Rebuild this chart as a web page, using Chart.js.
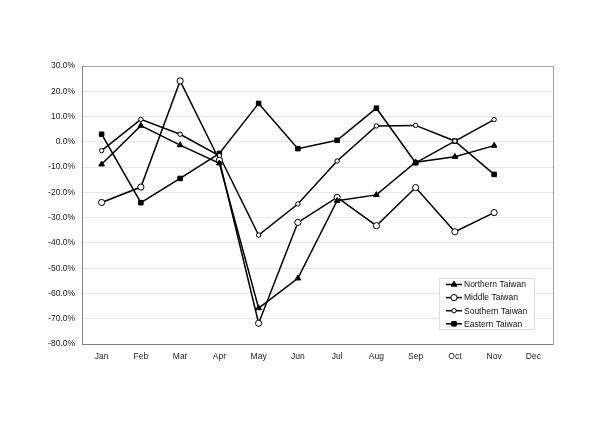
<!DOCTYPE html>
<html>
<head>
<meta charset="utf-8">
<script src="https://cdn.jsdelivr.net/npm/chart.js@4.4.1/dist/chart.umd.min.js"></script>
<style>
  html, body { margin: 0; padding: 0; background: #fff; }
  #wrap { width: 600px; height: 424px; position: relative; }
</style>
</head>
<body>
<div id="wrap"><canvas id="chart" width="600" height="424"></canvas></div>
<script>
const months = ["Jan", "Feb", "Mar", "Apr", "May", "Jun", "Jul", "Aug", "Sep", "Oct", "Nov", "Dec"];
const northern = [-8.9, 6.4, -1.3, -8.5, -65.8, -54.0, -23.3, -21.0, -8.1, -5.9, -1.5, null];
const middle = [-24.0, -17.9, 24.1, -7.3, -71.8, -31.9, -22.0, -33.2, -18.1, -35.6, -28.0, null];
const southern = [-3.5, 8.9, 3.0, -5.5, -36.9, -24.6, -7.6, 6.3, 6.5, 0.3, 8.8, null];
const eastern = [3.0, -24.1, -14.5, -4.6, 15.2, -2.7, 0.6, 13.3, -8.3, 0.3, -12.9, null];
const yMin = -80, yMax = 30, yStep = 10;

const FONT = "'Liberation Sans', Arial, sans-serif";

// legend + frame drawn on top of the plot
const frameAndLegend = {
  id: "frameAndLegend",
  afterDatasetsDraw(chart) {
    const { ctx, chartArea: a } = chart;
    ctx.save();
    ctx.strokeStyle = "#a0a0a0";
    ctx.lineWidth = 1;
    ctx.strokeRect(a.left + 0.5, a.top + 0.5, a.right - a.left, a.bottom - a.top);
    ctx.strokeStyle = "#808080";
    ctx.beginPath();
    ctx.moveTo(a.left + 0.5, a.top);
    ctx.lineTo(a.left + 0.5, a.bottom + 0.5);
    ctx.lineTo(a.right, a.bottom + 0.5);
    ctx.stroke();

    // legend box
    const bx = 439, by = 278, bw = 95, bh = 51;
    ctx.fillStyle = "#fff";
    ctx.fillRect(bx, by, bw, bh);
    ctx.strokeStyle = "#dddddd";
    ctx.strokeRect(bx + 0.5, by + 0.5, bw, bh);
    chart.data.datasets.forEach((ds, i) => {
      const y = 284.5 + i * 13.1;
      ctx.strokeStyle = "#000";
      ctx.lineWidth = 1.5;
      ctx.beginPath();
      ctx.moveTo(446, y);
      ctx.lineTo(462, y);
      ctx.stroke();
      ctx.fillStyle = ds.pointBackgroundColor;
      ctx.strokeStyle = "#000";
      ctx.lineWidth = 1;
      Chart.helpers.drawPoint(ctx, {
        pointStyle: ds.pointStyle,
        radius: ds.pointRadius,
        borderWidth: 1
      }, 454, y);
      ctx.fillStyle = "#111";
      ctx.font = "8.5px " + FONT;
      ctx.textBaseline = "middle";
      ctx.textAlign = "left";
      ctx.fillText(ds.label, 464, y + 0.5);
    });
    ctx.restore();
  }
};

function series(label, data, style, radius, fill) {
  return {
    label,
    data,
    borderColor: "#000",
    borderWidth: 1.5,
    pointStyle: style,
    pointRadius: radius,
    pointBackgroundColor: fill,
    pointBorderColor: "#000",
    pointBorderWidth: 1,
    tension: 0,
    spanGaps: false
  };
}

new Chart(document.getElementById("chart").getContext("2d"), {
  type: "line",
  data: {
    labels: months,
    datasets: [
      series("Northern Taiwan", northern, "triangle", 3.3, "#000"),
      series("Middle Taiwan", middle, "circle", 3.1, "#fff"),
      series("Southern Taiwan", southern, "circle", 2.2, "#fff"),
      series("Eastern Taiwan", eastern, "rect", 3.2, "#000")
    ]
  },
  options: {
    responsive: false,
    animation: false,
    layout: { padding: { left: 0, right: 47, top: 66, bottom: 0 } },
    plugins: { legend: { display: false }, tooltip: { enabled: false } },
    scales: {
      x: {
        offset: true,
        grid: { display: false, drawTicks: false },
        border: { display: false },
        ticks: { color: "#222", font: { family: FONT, size: 8.5 }, padding: 8, maxRotation: 0 },
        afterFit: (s) => { s.height = 80; }
      },
      y: {
        min: yMin,
        max: yMax,
        grid: { color: "#e8e8e8", drawTicks: false },
        border: { display: false },
        ticks: {
          stepSize: yStep,
          color: "#222",
          font: { family: FONT, size: 8.5 },
          padding: 7,
          callback: (v) => v.toFixed(1) + "%"
        },
        afterFit: (s) => { s.width = 82; }
      }
    }
  },
  plugins: [frameAndLegend]
});
</script>
</body>
</html>
